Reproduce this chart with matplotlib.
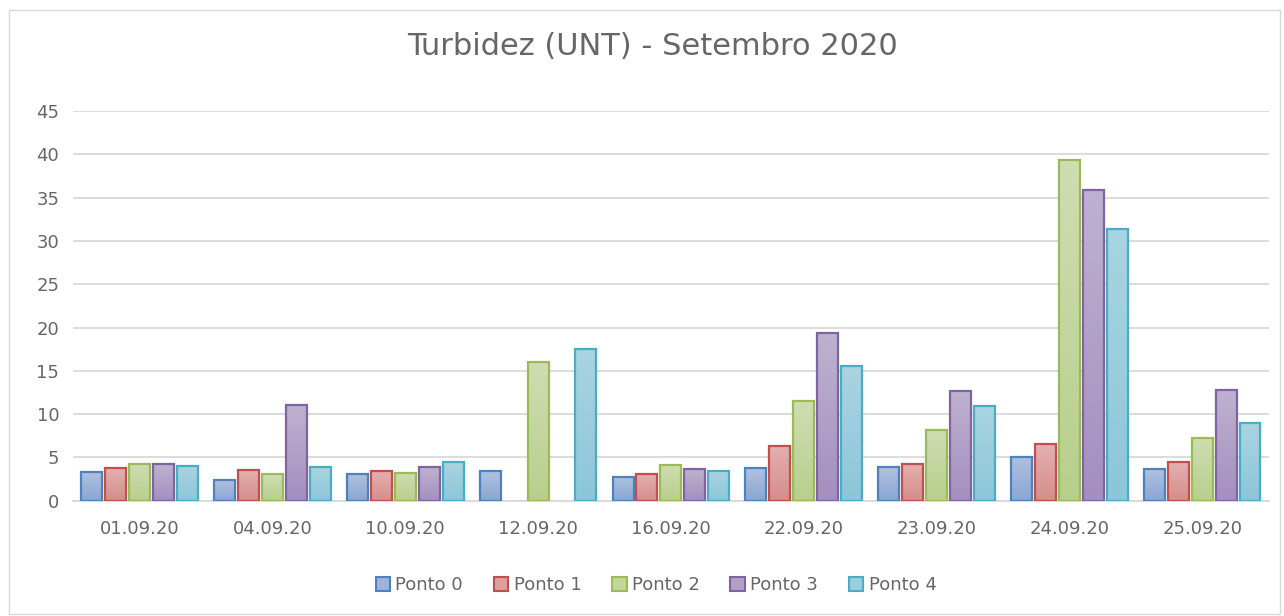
import numpy as np
import matplotlib.pyplot as plt
from matplotlib.patches import Rectangle
from matplotlib.colors import to_rgb

datas = ["01.09.20", "04.09.20", "10.09.20", "12.09.20", "16.09.20",
         "22.09.20", "23.09.20", "24.09.20", "25.09.20"]
series = ["Ponto 0", "Ponto 1", "Ponto 2", "Ponto 3", "Ponto 4"]

ponto0 = [3.3, 2.35, 3.1, 3.45, 2.8, 3.8, 3.9, 5.1, 3.65]
ponto1 = [3.75, 3.55, 3.45, np.nan, 3.1, 6.35, 4.3, 6.55, 4.45]
ponto2 = [4.25, 3.05, 3.2, 16.0, 4.1, 11.5, 8.2, 39.3, 7.25]
ponto3 = [4.25, 11.05, 3.9, np.nan, 3.7, 19.4, 12.7, 35.9, 12.75]
ponto4 = [4.05, 3.85, 4.45, 17.5, 3.45, 15.6, 10.95, 31.4, 8.95]
valores = [ponto0, ponto1, ponto2, ponto3, ponto4]

bordas = ["#4F81BD", "#C0504D", "#9BBB59", "#8064A2", "#4BACC6"]
topo = ["#AFC1DF", "#E3B0AF", "#CFDDB2", "#BDB2CF", "#AAD4E1"]
base = ["#8AA6D2", "#D58D8B", "#B8CF8C", "#A48FBF", "#8CC6D9"]

fig = plt.figure(figsize=(12.84, 6.16), dpi=100)
fig.patches.append(Rectangle((0.007, 0.003), 0.99, 0.98, transform=fig.transFigure,
                             fill=False, edgecolor="#D9D9D9", linewidth=1))
ax = fig.add_axes([0.057, 0.187, 0.931, 0.633])

x = np.arange(len(datas))
largura = 0.158
passo = 0.18
for i, vals in enumerate(valores):
    pos = x + (i - 2) * passo
    ax.bar(pos, vals, width=largura, color="none", edgecolor=bordas[i],
           linewidth=1.6, zorder=3, label=series[i])
    # gradiente de cada barra
    grad = np.linspace(0, 1, 64).reshape(-1, 1)
    c1 = np.array(to_rgb(topo[i]))
    c2 = np.array(to_rgb(base[i]))
    img = c1 * (1 - grad[:, :, None]) + c2 * grad[:, :, None]
    for p, v in zip(pos, vals):
        if np.isnan(v):
            continue
        ax.imshow(img, extent=(p - largura / 2, p + largura / 2, 0, v),
                  aspect="auto", zorder=2, interpolation="bilinear")

ax.set_xlim(-0.5, len(datas) - 0.5)
ax.set_ylim(0, 45)
ax.set_yticks(range(0, 46, 5))
ax.set_xticks(x)
ax.set_xticklabels(datas)
ax.grid(axis="y", color="#D9D9D9", linewidth=1.3, zorder=0)
for s in ["top", "right", "left"]:
    ax.spines[s].set_visible(False)
ax.spines["bottom"].set_color("#D9D9D9")
ax.spines["bottom"].set_linewidth(1.3)
ax.tick_params(length=0, labelsize=13, colors="#666666", pad=14)
ax.tick_params(axis="y", pad=10)

fig.suptitle("Turbidez (UNT) - Setembro 2020", x=0.508, y=0.948, fontsize=22, color="#666666")

handles = [Rectangle((0, 0), 1, 1, facecolor=(np.array(to_rgb(topo[i])) + np.array(to_rgb(base[i]))) / 2,
                     edgecolor=bordas[i], linewidth=1.5) for i in range(5)]
fig.legend(handles, series, loc="center", bbox_to_anchor=(0.511, 0.05), ncol=5,
           frameon=False, fontsize=13, labelcolor="#666666", handlelength=0.8,
           handleheight=0.8, handletextpad=0.3, columnspacing=1.7)

fig.savefig("out.png", dpi=100)
